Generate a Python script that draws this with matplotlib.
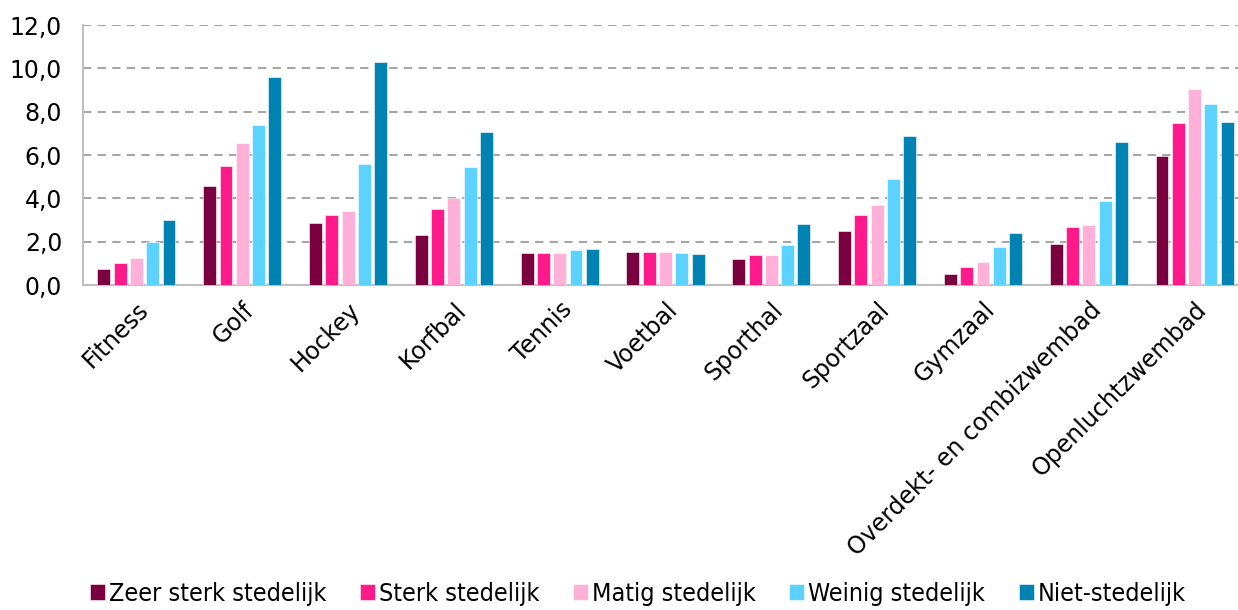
import matplotlib
matplotlib.use("Agg")
import matplotlib.pyplot as plt
from matplotlib.font_manager import FontProperties
import numpy as np

categories = ["Fitness", "Golf", "Hockey", "Korfbal", "Tennis", "Voetbal",
              "Sporthal", "Sportzaal", "Gymzaal", "Overdekt- en combizwembad",
              "Openluchtzwembad"]
series_names = ["Zeer sterk stedelijk", "Sterk stedelijk", "Matig stedelijk",
                "Weinig stedelijk", "Niet-stedelijk"]
zeer_sterk = [0.74, 4.57, 2.86, 2.31, 1.46, 1.52, 1.20, 2.48, 0.51, 1.88, 5.95]
sterk = [1.00, 5.49, 3.21, 3.52, 1.46, 1.51, 1.37, 3.21, 0.82, 2.66, 7.46]
matig = [1.23, 6.54, 3.43, 4.03, 1.48, 1.54, 1.38, 3.68, 1.08, 2.75, 9.03]
weinig = [1.98, 7.37, 5.58, 5.43, 1.60, 1.48, 1.86, 4.91, 1.74, 3.86, 8.34]
niet = [2.98, 9.58, 10.31, 7.05, 1.68, 1.43, 2.80, 6.86, 2.42, 6.58, 7.51]
series = [zeer_sterk, sterk, matig, weinig, niet]
colors = ["#7B003F", "#FF1A8C", "#FFB0D8", "#5BD2FF", "#0083B3"]
yticks = [0, 2, 4, 6, 8, 10, 12]
ytick_labels = ["0,0", "2,0", "4,0", "6,0", "8,0", "10,0", "12,0"]

fig = plt.figure(figsize=(12.38, 6.10), dpi=100)
ax = fig.add_axes([83/1238, 1-285/610, (1238-83)/1238, 260/610])

x = np.arange(len(categories))
step = 0.154
bw = 0.122
for i, (vals, col, name) in enumerate(zip(series, colors, series_names)):
    ax.bar(x + (i - 2) * step, vals, width=bw, color=col, label=name,
           edgecolor="white", linewidth=0.4, zorder=3)

ax.set_ylim(0, 12)
ax.set_xlim(-0.505, 10.41)
ax.set_yticks(yticks)
ax.set_yticklabels(ytick_labels, fontsize=17)
ax.set_xticks(x)
ax.set_xticklabels(categories, rotation=45, ha="right", rotation_mode="anchor",
                   fontsize=17)
ax.tick_params(axis="both", length=0)
ax.tick_params(axis="x", pad=9)
ax.tick_params(axis="y", pad=15)
ax.yaxis.grid(True, linestyle=(0, (4, 3)), color="#A6A6A6", linewidth=1.5, zorder=0)
ax.set_axisbelow(True)
for s in ["top", "right"]:
    ax.spines[s].set_visible(False)
for s in ["left", "bottom"]:
    ax.spines[s].set_color("#BFBFBF")
    ax.spines[s].set_linewidth(1.5)

legfont = FontProperties(family="DejaVu Sans", stretch="condensed", size=18)
leg = fig.legend(loc="lower center", bbox_to_anchor=(0.515, -0.03), ncol=5,
                 frameon=False, prop=legfont, handlelength=0.6, handleheight=0.6,
                 handletextpad=0.15, columnspacing=1.35)

fig.savefig("out.png", dpi=100)
